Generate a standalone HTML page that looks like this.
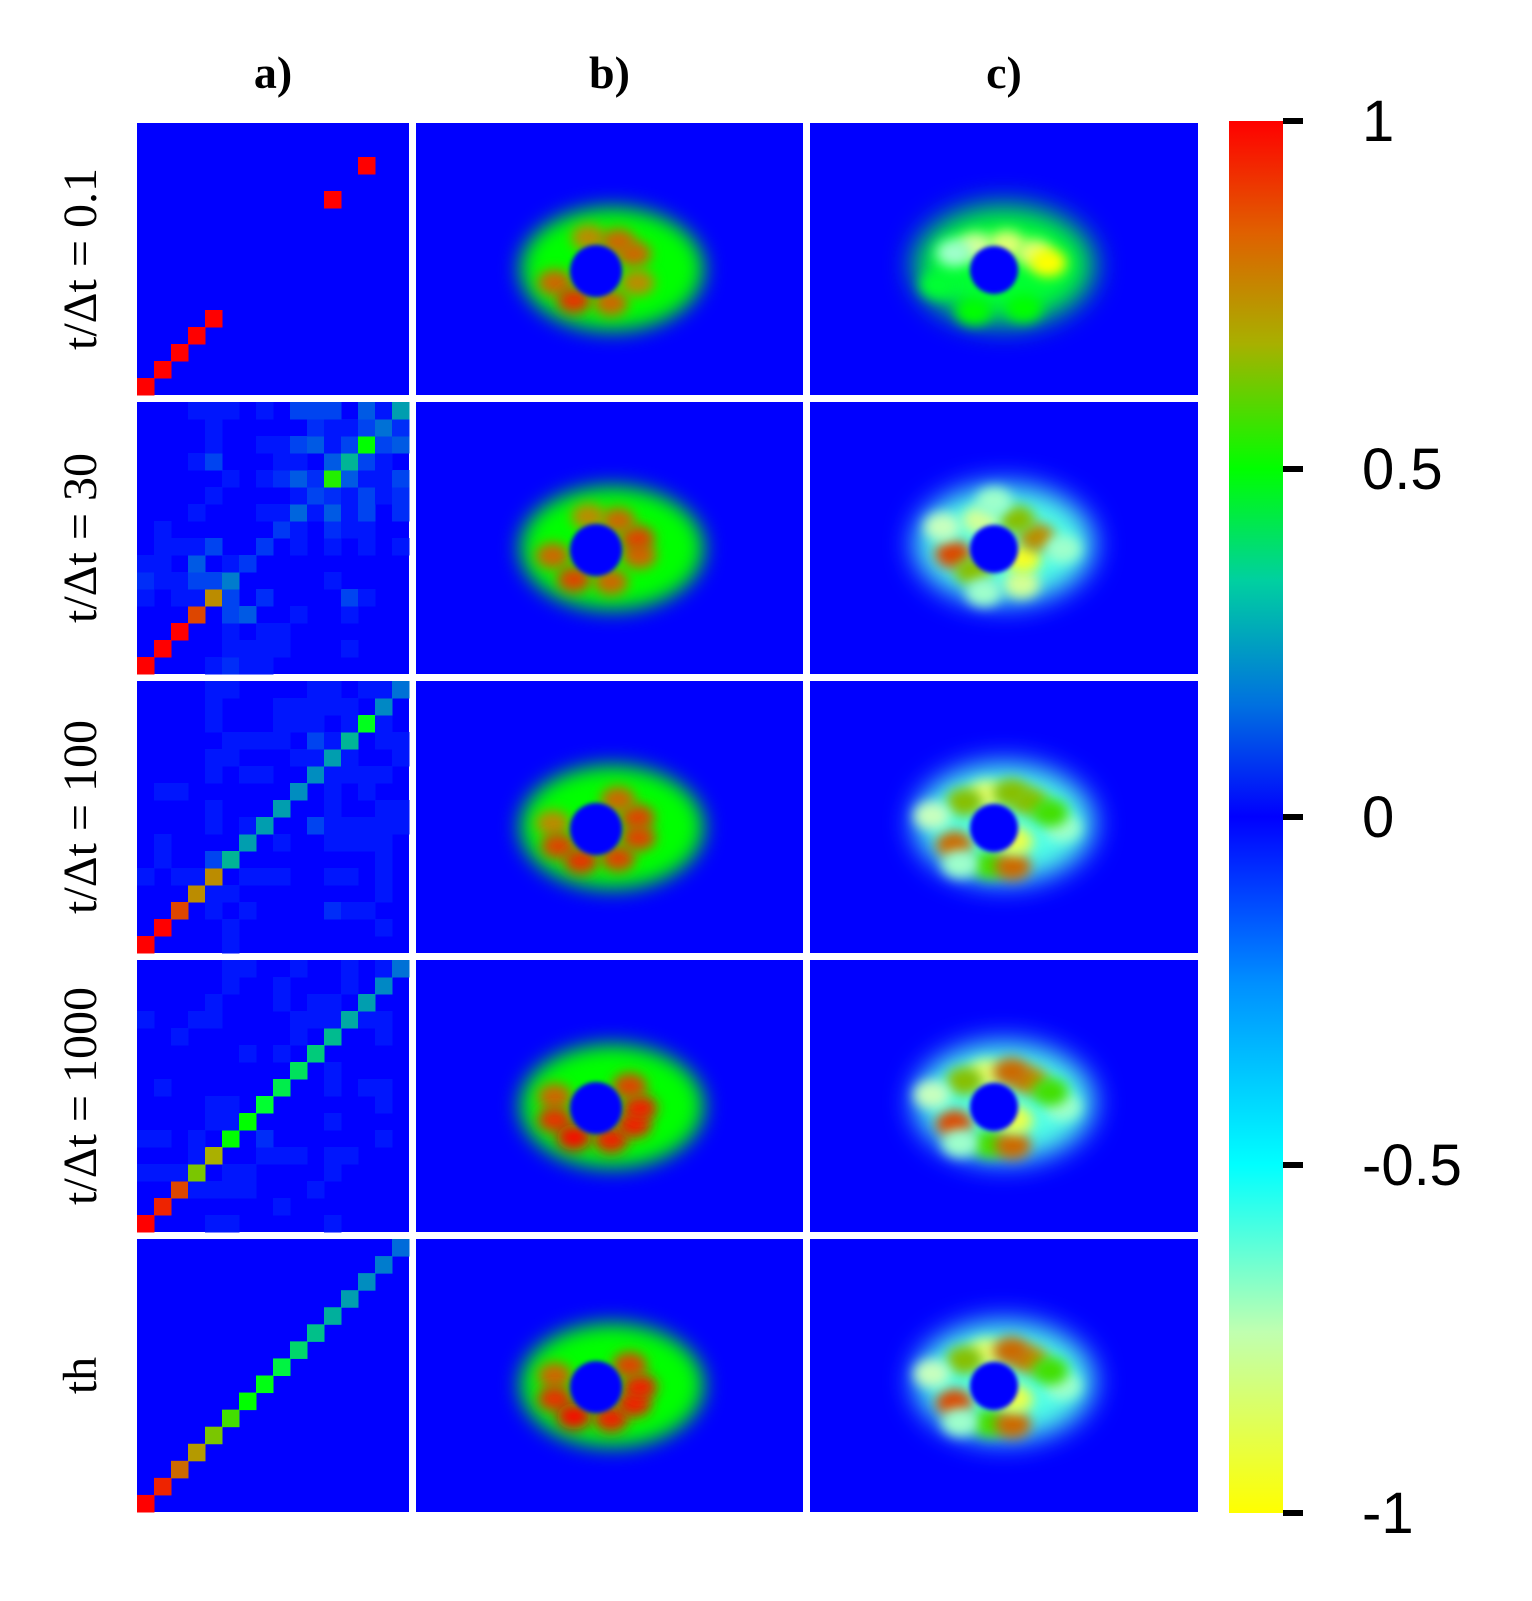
<!DOCTYPE html>
<html><head><meta charset="utf-8"><style>
body{margin:0;background:#fff;width:1532px;height:1601px;overflow:hidden}
svg{position:absolute;left:0;top:0}
</style></head><body>
<svg id="fig" width="1532" height="1601" xmlns="http://www.w3.org/2000/svg">
<defs>
<filter id="b6" x="-50%" y="-50%" width="200%" height="200%"><feGaussianBlur stdDeviation="6"/></filter>
<filter id="b10" x="-50%" y="-50%" width="200%" height="200%"><feGaussianBlur stdDeviation="10"/></filter>
<filter id="b16" x="-50%" y="-50%" width="200%" height="200%"><feGaussianBlur stdDeviation="14"/></filter>
<filter id="b3" x="-50%" y="-50%" width="200%" height="200%"><feGaussianBlur stdDeviation="2"/></filter>
<linearGradient id="cbar" x1="0" y1="0" x2="0" y2="1">
<stop offset="0" stop-color="#ff0000"/><stop offset="0.08" stop-color="#e06000"/>
<stop offset="0.16" stop-color="#a8b000"/><stop offset="0.25" stop-color="#00ff00"/>
<stop offset="0.33" stop-color="#00d0a0"/><stop offset="0.42" stop-color="#0070e0"/>
<stop offset="0.5" stop-color="#0000ff"/><stop offset="0.62" stop-color="#0090ff"/>
<stop offset="0.75" stop-color="#00ffff"/><stop offset="0.87" stop-color="#c0ffb0"/>
<stop offset="1" stop-color="#ffff00"/></linearGradient>
</defs>
<g id="cols"></g><g id="rowsg"></g><g id="mats"></g><g id="blobs"></g><g id="cb"></g>
</svg>
<script>
// ---- data ----
const colLabels = ["a)", "b)", "c)"];
const rowLabels = ["t/\u0394t = 0.1", "t/\u0394t = 30", "t/\u0394t = 100", "t/\u0394t = 1000", "th"];
const cbTicks = [1, 0.5, 0, -0.5, -1];
const cbTickLabels = ["1", "0.5", "0", "-0.5", "-1"];
// diagonal values (index 0 = bottom-left)
const diag01 = [1,1,1,1,1,0,0,0,0,0,0,1,0,1,0,0];
const diag30 = [1,1,1,0.9,0.8,0.22,0.1,0.1,0.1,0.18,0.12,0.55,0.32,0.5,0.2,0.28];
const diag100 = [1,1,0.9,0.8,0.8,0.32,0.28,0.28,0.28,0.25,0.25,0.28,0.32,0.47,0.24,0.2];
const diag1000 = [1,0.95,0.9,0.68,0.75,0.5,0.5,0.45,0.42,0.4,0.36,0.33,0.3,0.28,0.24,0.2];
const diagTh = [1,0.95,0.85,0.78,0.68,0.6,0.5,0.48,0.43,0.38,0.34,0.31,0.28,0.25,0.22,0.19];
// off-diagonal magnitudes, digit*0.04, rows listed top (index 15) to bottom (index 0)
const off30 = ["0001110103330415","0000100000211332","0000100113413034","0001300011045310","0000010124204113","0000100001321312","0001000114141302","0100000021021100","0111300201010101","1104012000000000","2113340000010000","1011030200003100","0000034001001000","0000010110000000","0000011110001000","0000121100000000"];
const off100 = ["0000110000110112","0000100011111040","0000100011101010","0000011110311011","0000110001121001","0000101100111110","0110000001010100","0000100000010011","0000101000311111","0100000010011110","0100300000000010","1011201110011010","0000110000000010","0010101000021100","0000010000000010","0000010000000000"];
const off1000 = ["0000011001001013","0000010010001030","0000100010110100","1001100001110110","0010000001010010","0000001010000000","0000000000010000","0100000000010110","0000110000000010","0000111000010000","1101000200000010","0001200111011000","1111011000010000","0011111000100000","0100000010000000","0000110000010000"];
const matSets = [[diag01,null],[diag30,off30],[diag100,off100],[diag1000,off1000],[diagTh,null]];
// lobes for panel b: [angleDeg, strength]; panel c: [angleDeg, value, radiusFactor]
const bLobes = [
 [[200,0.7],[240,0.85],[290,0.7],[30,0.7],[340,0.6],[100,0.6],[60,0.7]],
 [[190,0.7],[240,0.8],[290,0.7],[350,0.7],[20,0.8],[60,0.7],[100,0.6]],
 [[170,0.6],[210,0.8],[250,0.85],[300,0.8],[345,0.8],[20,0.8],[60,0.7]],
 [[160,0.7],[200,0.85],[240,0.95],[290,0.9],[330,0.9],[0,0.9],[40,0.8]],
 [[160,0.7],[200,0.85],[240,0.95],[290,0.9],[330,0.9],[0,0.9],[40,0.8]]];
const cLobes = [
 [[70,-0.85,0.8],[120,-0.8,0.8],[30,-0.85,1.0],[10,-1,1.2],[250,0.5,1.3],[300,0.5,1.3],[200,0.45,1.3],[150,-0.7,1.0]],
 [[190,0.9,0.9],[235,0.7,0.8],[300,-0.8,1.2],[335,-0.95,0.7],[20,0.8,1.0],[60,0.7,1.0],[110,-0.8,0.9],[150,-0.75,1.3],[0,-0.7,1.5],[260,-0.7,1.3],[90,-0.7,1.4]],
 [[210,0.85,1.0],[265,0.6,1.1],[290,0.85,1.2],[320,-0.9,0.6],[45,0.7,1.1],[100,-0.85,1.0],[130,0.7,1.0],[165,-0.75,1.4],[235,-0.7,1.3],[0,-0.7,1.5],[70,0.7,1.1],[20,0.6,1.3]],
 [[210,0.9,1.0],[265,0.6,1.1],[290,0.85,1.2],[320,-0.9,0.6],[45,0.8,1.1],[100,-0.85,1.0],[130,0.7,1.0],[165,-0.75,1.4],[235,-0.7,1.3],[0,-0.7,1.5],[70,0.85,1.1],[20,0.6,1.3]],
 [[210,0.9,1.0],[265,0.6,1.1],[290,0.85,1.2],[320,-0.9,0.6],[45,0.8,1.1],[100,-0.85,1.0],[130,0.7,1.0],[165,-0.75,1.4],[235,-0.7,1.3],[0,-0.7,1.5],[70,0.85,1.1],[20,0.6,1.3]]];

// ---- layout ----
const NS="http://www.w3.org/2000/svg";
const colX=[[137,409],[416,803],[810,1198]];
const rowY=[[123,395],[402,674],[681,953],[960,1232],[1239,1512]];
const cbTop=121, cbBot=1513;
function yCb(v){return cbTop+(1-v)/2*(cbBot-cbTop);}
function lerp(a,b,t){return a.map((x,i)=>x+(b[i]-x)*t);}
function cmap(v){
  v=Math.max(-1,Math.min(1,v));let c;
  if(v>=0.75){c=lerp([170,176,0],[255,0,0],(v-0.75)/0.25);}
  else if(v>=0.5){c=lerp([0,255,0],[170,176,0],(v-0.5)/0.25);}
  else if(v>=0){const t=v/0.5;c=[0,255*Math.min(1,v/0.45),255*Math.max(0,1-t*t)];}
  else if(v>=-0.5){c=lerp([0,0,255],[0,255,255],-v/0.5);}
  else if(v>=-0.75){c=lerp([0,255,255],[200,255,190],(-v-0.5)/0.25);}
  else{c=lerp([200,255,190],[255,255,0],(-v-0.75)/0.25);}
  return `rgb(${c[0]|0},${c[1]|0},${c[2]|0})`;
}
function mk(tag,attrs,parent){const e=document.createElementNS(NS,tag);for(const k in attrs)e.setAttribute(k,attrs[k]);parent.appendChild(e);return e;}

const gc=document.getElementById('cols');
colLabels.forEach((s,i)=>{
  const t=mk('text',{x:(colX[i][0]+colX[i][1])/2,y:88,'text-anchor':'middle','font-family':'Liberation Serif, serif','font-weight':'bold','font-size':'46'},gc);
  t.textContent=s;
  
  
});
const gr=document.getElementById('rowsg');
rowLabels.forEach((s,i)=>{
  const cy=(rowY[i][0]+rowY[i][1])/2, x=96;
  const t=mk('text',{x:x,y:cy,'text-anchor':'middle','font-family':'Liberation Serif, serif','font-size':'48',transform:`rotate(-90 ${x} ${cy})`},gr);
  t.textContent=s;
  
  
});

// matrices
const gm=document.getElementById('mats');
matSets.forEach((ms,ri)=>{
  const [d,off]=ms;const x0=colX[0][0],x1=colX[0][1],y0=rowY[ri][0],y1=rowY[ri][1];
  const cw=(x1-x0)/16,ch=(y1-y0)/16;
  const g=mk('g',{},gm);
  
  
  mk('rect',{x:x0,y:y0,width:x1-x0,height:y1-y0,fill:cmap(0)},g);
  for(let r=0;r<16;r++)for(let c=0;c<16;c++){
    let v=0;
    if(r===c)v=d[r];else if(off)v=parseInt(off[15-r][c])*0.04;
    if(v===0)continue;
    const rc=mk('rect',{x:x0+c*cw,y:y1-(r+1)*ch,width:cw+0.5,height:ch+0.5,fill:cmap(v)},g);
    
    
  }
});

// blobs
const gb=document.getElementById('blobs');
for(let ri=0;ri<5;ri++){
  const y0=rowY[ri][0],y1=rowY[ri][1];
  // panel b
  {
    const [x0,x1]=colX[1];const cx=x0+196,cy=y0+146,hx=x0+180,hy=y0+148;
    const g=mk('g',{},gb);
    
    
    mk('rect',{x:x0,y:y0,width:x1-x0,height:y1-y0,fill:cmap(0)},g);
    const cp=mk('clipPath',{id:'cpb'+ri},g);mk('rect',{x:x0,y:y0,width:x1-x0,height:y1-y0},cp);
    const inner=mk('g',{'clip-path':`url(#cpb${ri})`},g);
    mk('ellipse',{cx:cx,cy:cy,rx:92,ry:62,fill:cmap(0.5),filter:'url(#b10)'},inner);
    bLobes[ri].forEach(([a,s])=>{
      const rad=a*Math.PI/180;
      const e=mk('ellipse',{cx:hx+44*Math.cos(rad),cy:hy-34*Math.sin(rad),rx:17,ry:13,fill:cmap(0.5+s*0.5),filter:'url(#b6)'},inner);
      
      
    });
    mk('circle',{cx:hx,cy:hy,r:26,fill:cmap(0),filter:'url(#b3)'},inner);
  }
  // panel c
  {
    const [x0,x1]=colX[2];const cx=x0+194,cy=y0+142,hx=x0+184,hy=y0+147;
    const g=mk('g',{},gb);
    
    
    mk('rect',{x:x0,y:y0,width:x1-x0,height:y1-y0,fill:cmap(0)},g);
    const cp=mk('clipPath',{id:'cpc'+ri},g);mk('rect',{x:x0,y:y0,width:x1-x0,height:y1-y0},cp);
    const inner=mk('g',{'clip-path':`url(#cpc${ri})`},g);
    mk('ellipse',{cx:cx,cy:cy,rx:90,ry:60,fill:ri===0?cmap(0.45):cmap(-0.6),filter:'url(#b16)'},inner);
    cLobes[ri].forEach(([a,v,rf])=>{
      const rad=a*Math.PI/180;
      const e=mk('ellipse',{cx:hx+46*rf*Math.cos(rad),cy:hy-34*rf*Math.sin(rad),rx:18,ry:14,fill:cmap(v),filter:'url(#b6)'},inner);
      
      
    });
    mk('circle',{cx:hx,cy:hy,r:24,fill:cmap(0),filter:'url(#b3)'},inner);
  }
}

// colorbar
const gcb=document.getElementById('cb');
const cbr=mk('rect',{x:1229,y:cbTop,width:54,height:cbBot-cbTop,fill:'url(#cbar)'},gcb);


cbTicks.forEach((v,i)=>{
  const y=yCb(v);
  const l=mk('line',{x1:1283,x2:1303,y1:y,y2:y,stroke:'#000','stroke-width':6},gcb);
  
  
  const t=mk('text',{x:1362,y:y+20,'font-family':'Liberation Sans, sans-serif','font-size':'58'},gcb);
  t.textContent=cbTickLabels[i];
  
  
});
</script>
</body></html>
